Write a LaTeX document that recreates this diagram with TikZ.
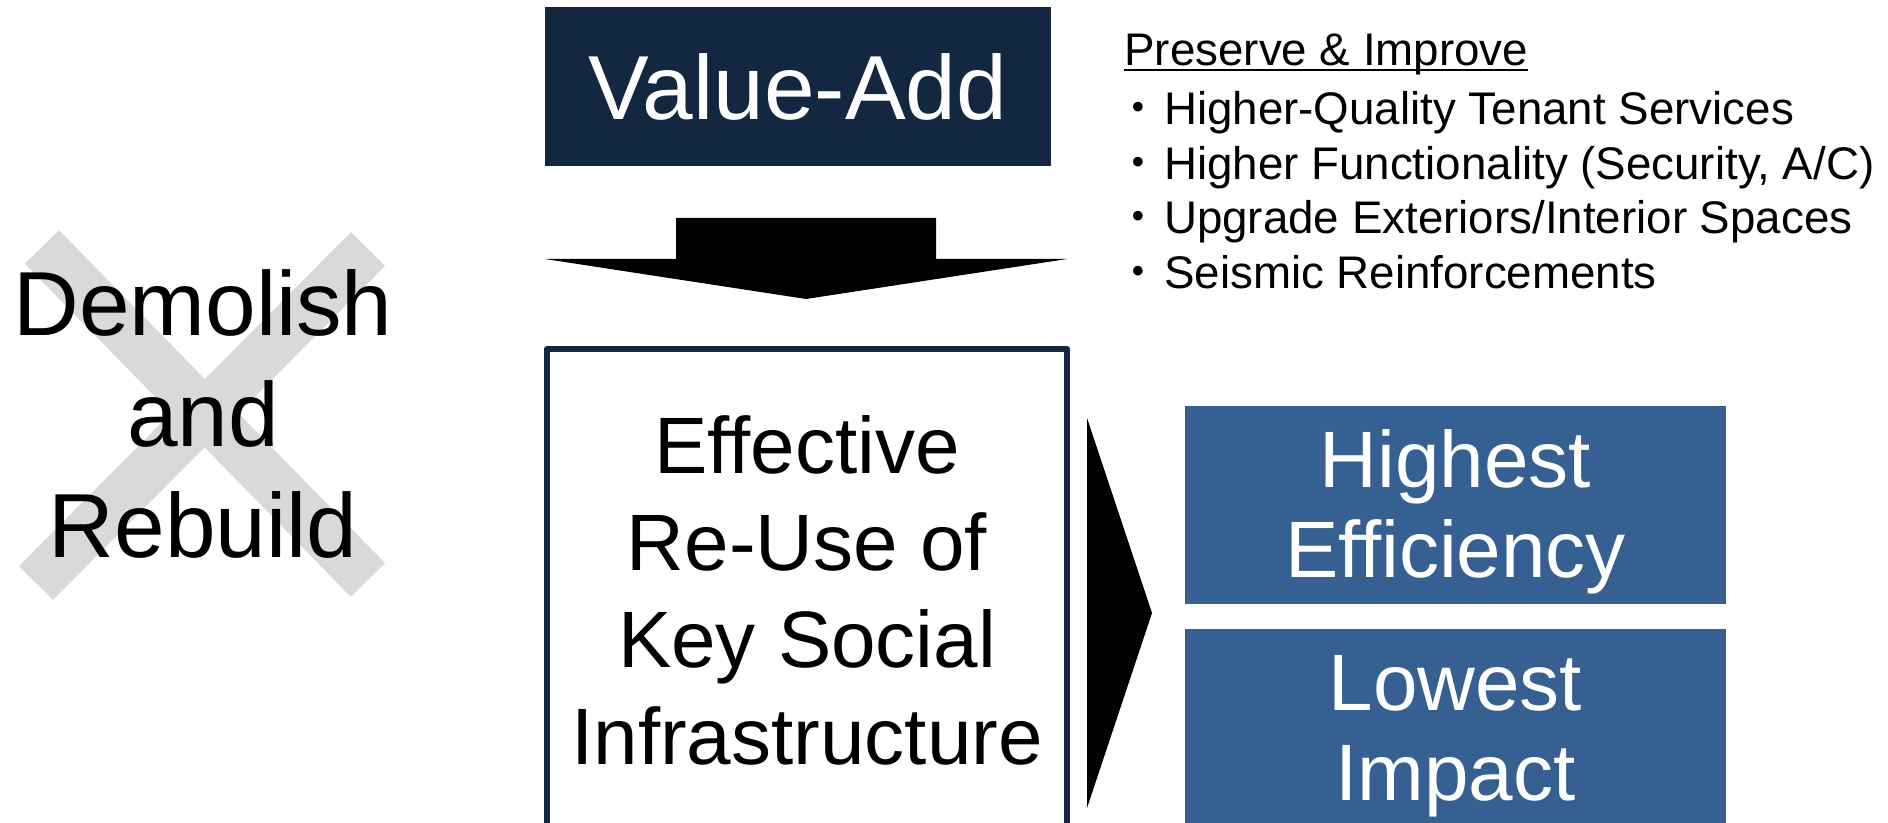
\documentclass[tikz,border=0pt]{standalone}
\usepackage{fontspec}
\setmainfont{Liberation Sans}
\newfontfamily\cjk{Noto Sans CJK JP}
\usetikzlibrary{positioning}
\definecolor{navy}{RGB}{19,39,65}
\definecolor{steel}{RGB}{55,96,146}
\definecolor{crossgray}{RGB}{217,217,217}
\newcommand{\ulhead}[1]{\setbox0\hbox{#1}\rlap{\rule[-0.14em]{\wd0}{0.05em}}\box0}
\newcommand{\itm}{{\cjk ・}\hspace{1.5pt}}

\begin{document}
\begin{tikzpicture}
			[x=0.5pt,y=-0.5pt,
			 bigtext/.style={font=\fontsize{45.5}{55.5}\selectfont,align=center,inner sep=0pt},
			 darkbox/.style={fill=navy,text=white,minimum width=253pt,minimum height=79.5pt,inner sep=0pt,font=\fontsize{45.5}{55.5}\selectfont},
			 reusebox/.style={draw=navy,line width=3pt,line join=round,minimum width=260pt,minimum height=241pt,align=center,inner sep=0pt,font=\fontsize{40}{48.5}\selectfont},
			 bluebox/.style={fill=steel,text=white,minimum width=270.5pt,align=center,inner sep=0pt,font=\fontsize{40}{45}\selectfont},
			 listtext/.style={align=left,inner sep=0pt,font=\fontsize{22.85}{27.3}\selectfont},
			 cross/.style={crossgray,line width=24pt},
			 blockarrow/.style={fill=black}]
			\clip (0,0) rectangle (1888,823);

			% crossed-out option
			\draw [cross] (42,247) -- (368,580);
			\draw [cross] (368,249) -- (36,583);
			\node (demolish) [bigtext] at (203,414) {Demolish\\and\\Rebuild};

			\node (valueadd) [darkbox] at (798,86.5) {Value-Add};
			\fill [blockarrow] (676,218) -- (936,218) -- (936,259) -- (1067,259)
			  -- (806,299) -- (545,259) -- (676,259) -- cycle;
			\node (reuse) [reusebox] at (807,590) {Effective\\Re-Use of\\Key Social\\Infrastructure};

			\fill [blockarrow] (1087,418) -- (1152,613) -- (1087,808) -- cycle;
			\node (efficiency) [bluebox,minimum height=99pt] at (1455.5,505) {\rule{0pt}{36pt}Highest\\Efficiency};
			\node (impact) [bluebox,minimum height=107.5pt,below=12pt of efficiency] {Lowest\\Impact};

			\node (improve) [listtext,anchor=north west] at (1115,33)
			  {\hspace*{4.5pt}\ulhead{Preserve \& Improve}\\[2.5pt]
			   \itm Higher-Quality Tenant Services\\
			   \itm Higher Functionality (Security, A/C)\\
			   \itm Upgrade Exteriors/Interior Spaces\\
			   \itm Seismic Reinforcements};
		\end{tikzpicture}
\end{document}
